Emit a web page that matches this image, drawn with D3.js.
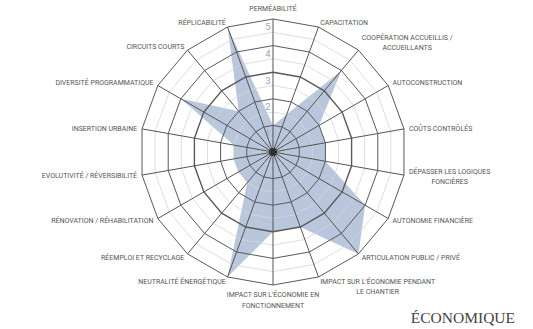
<!DOCTYPE html>
<html>
<head>
<meta charset="utf-8">
<script src="https://cdn.jsdelivr.net/npm/d3@7"></script>
<style>
  body { margin: 0; background: #fff; }
  svg { display: block; }
</style>
</head>
<body>
<svg id="radar"></svg>
<script>
// Axes, clockwise from the top ("\n" = line break in the label)
const categories = [
    "PERMÉABILITÉ",
    "CAPACITATION",
    "COOPÉRATION ACCUEILLIS /\nACCUEILLANTS",
    "AUTOCONSTRUCTION",
    "COÛTS CONTRÔLÉS",
    "DÉPASSER LES LOGIQUES\nFONCIÈRES",
    "AUTONOMIE FINANCIÈRE",
    "ARTICULATION PUBLIC / PRIVÉ",
    "IMPACT SUR L'ÉCONOMIE PENDANT\nLE CHANTIER",
    "IMPACT SUR L'ÉCONOMIE EN\nFONCTIONNEMENT",
    "NEUTRALITÉ ÉNERGÉTIQUE",
    "RÉEMPLOI ET RECYCLAGE",
    "RÉNOVATION / RÉHABILITATION",
    "EVOLUTIVITÉ / RÉVERSIBILITÉ",
    "INSERTION URBAINE",
    "DIVERSITÉ PROGRAMMATIQUE",
    "CIRCUITS COURTS",
    "RÉPLICABILITÉ"
];
const values = [1, 1.5, 4, 2, 2, 2, 4, 5, 3, 3, 5, 1.5, 1.5, 1.5, 1.5, 4, 2, 5];
const majorTicks = [1, 2, 3, 4, 5];
const minorTicks = [0.5, 1.5, 2.5, 3.5, 4.5];
const title = "ÉCONOMIQUE";

function drawRadar() {
    const width = 533;
    const height = 329;
    const cx = 273, cy = 152;
    const radius = 133;

    const svg = d3.select("#radar")
        .attr("width", width)
        .attr("height", height);

    const r = d3.scaleLinear().domain([0, 5]).range([0, radius]);
    const angle = d3.scaleLinear()
        .domain([0, categories.length])
        .range([0, 2 * Math.PI]);

    const g = svg.append("g").attr("transform", `translate(${cx},${cy})`);

    const ring = d3.lineRadial()
        .angle((d, i) => angle(i))
        .radius(d => r(d))
        .curve(d3.curveLinearClosed);

    // filled area
    g.append("path")
        .datum(values)
        .attr("d", ring)
        .attr("fill", "#b9c6dc");

    // grid rings
    g.selectAll(".minor")
        .data(minorTicks)
        .join("path")
        .attr("d", t => ring(categories.map(() => t)))
        .attr("fill", "none")
        .attr("stroke", "#d6d6d6")
        .attr("stroke-width", 0.8);
    g.selectAll(".major")
        .data(majorTicks)
        .join("path")
        .attr("d", t => ring(categories.map(() => t)))
        .attr("fill", "none")
        .attr("stroke", "#5a5a5a")
        .attr("stroke-width", t => t === 3 ? 1.4 : 1);

    // spokes
    g.selectAll(".spoke")
        .data(categories)
        .join("line")
        .attr("x1", 0).attr("y1", 0)
        .attr("x2", (d, i) => r(5) * Math.sin(angle(i)))
        .attr("y2", (d, i) => -r(5) * Math.cos(angle(i)))
        .attr("stroke", "#555")
        .attr("stroke-width", 1);

    g.append("circle").attr("r", 4).attr("fill", "#333");

    // scale numbers on the top spoke
    g.selectAll(".tick")
        .data(majorTicks)
        .join("text")
        .attr("x", -2.5)
        .attr("y", t => -r(t) + 8)
        .attr("dy", "0.35em")
        .attr("text-anchor", "end")
        .attr("font-family", "Roboto, sans-serif")
        .attr("font-size", 9.5)
        .attr("fill", "#a5a5a5")
        .text(t => t);

    // category labels
    const lh = 10.3;
    categories.forEach((label, i) => {
        const a = angle(i);
        const s = Math.sin(a), c = Math.cos(a);
        const lines = label.split("\n");
        const vx = r(5) * s, vy = -r(5) * c;
        let anchor = "middle", off = 5;
        if (s > 0.2) anchor = "start";
        else if (s < -0.2) anchor = "end";
        else off = 10;
        const x = vx + s * off;
        const yc = vy - c * off - c * (lines.length - 1) * lh / 2;
        const t = g.append("text")
            .attr("font-family", "Roboto, sans-serif")
            .attr("font-size", 7)
            .attr("fill", "#555")
            .attr("text-anchor", "middle");
        const spans = t.selectAll("tspan")
            .data(lines)
            .join("tspan")
            .attr("y", (d, k) => yc + (k - (lines.length - 1) / 2) * lh)
            .attr("dy", "0.35em")
            .text(d => d);
        // centre the lines inside the block, block anchored at the vertex
        const w = d3.max(spans.nodes(), n => n.getComputedTextLength());
        let mid = x;
        if (anchor === "start") mid = x + w / 2;
        if (anchor === "end") mid = x - w / 2;
        spans.attr("x", mid);
    });

    svg.append("text")
        .attr("x", 515)
        .attr("y", 323)
        .attr("text-anchor", "end")
        .attr("font-family", "'Liberation Serif', serif")
        .attr("font-size", 15.5)
        .attr("fill", "#444")
        .text(title);
}

drawRadar();
</script>
</body>
</html>
